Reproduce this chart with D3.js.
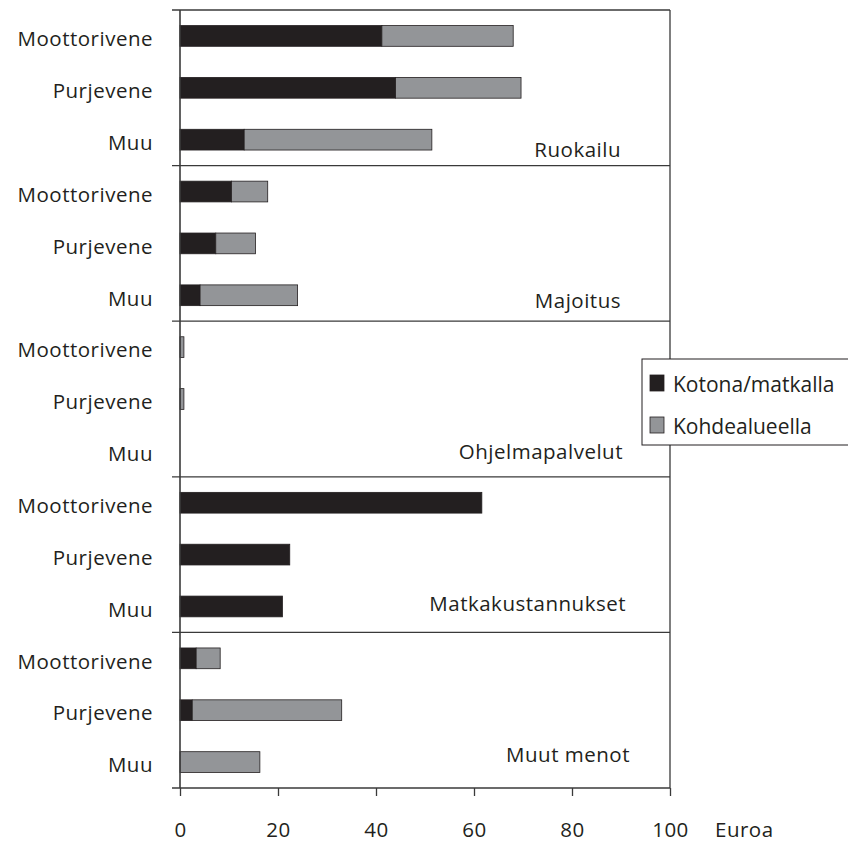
<!DOCTYPE html>
<html>
<head>
<meta charset="UTF-8">
<style>
  body { margin: 0; background: #fff; }
  svg text { font-family: 'Open Sans', sans-serif; fill: #231f20; }
  .lbl { font-size: 20.5px; letter-spacing: 0.5px; }
</style>
</head>
<body>
<svg id="chart" width="848" height="844"></svg>
<script src="https://cdn.jsdelivr.net/npm/d3@7"></script>
<script>
// groups (top to bottom) and boat types
const groups = ["Ruokailu", "Majoitus", "Ohjelmapalvelut", "Matkakustannukset", "Muut menot"];
const boats = ["Moottorivene", "Purjevene", "Muu"];
const seriesNames = ["Kotona/matkalla", "Kohdealueella"];

// euros, per group: [Moottorivene, Purjevene, Muu]
const kotona = [
  [41.2, 44.0, 13.1],
  [10.5, 7.3, 4.1],
  [0, 0, 0],
  [61.6, 22.4, 20.9],
  [3.3, 2.5, 0]
];
const kohde = [
  [26.8, 25.6, 38.3],
  [7.4, 8.1, 19.9],
  [0.8, 0.8, 0],
  [0, 0, 0],
  [4.9, 30.5, 16.3]
];
const xTicks = [0, 20, 40, 60, 80, 100];
const xLabel = "Euroa";

const svg = d3.select("#chart");
const mLeft = 180, mRight = 670, mTop = 10, mBottom = 788;

const x = d3.scaleLinear().domain([0, 100]).range([mLeft, mRight]);
const yGroup = d3.scaleBand().domain(groups).range([mTop, mBottom]);
const yBoat = d3.scaleBand().domain(boats).range([0, yGroup.bandwidth()])
  .paddingInner(0.6).paddingOuter(0.3);

const colors = ["#231f20", "#939598"];

// flatten into stacked rows
let rows = [];
groups.forEach((g, gi) => {
  boats.forEach((b, bi) => {
    rows.push({ g: g, b: b, v0: kotona[gi][bi], v1: kohde[gi][bi] });
  });
});

// bars
const barG = svg.append("g");
rows.forEach(r => {
  const y0 = yGroup(r.g) + yBoat(r.b);
  if (r.v0 > 0) {
    barG.append("rect")
      .attr("x", x(0)).attr("y", y0)
      .attr("width", x(r.v0) - x(0)).attr("height", yBoat.bandwidth())
      .attr("fill", colors[0]).attr("stroke", "#231f20").attr("stroke-width", 0.8);
  }
  if (r.v1 > 0) {
    barG.append("rect")
      .attr("x", x(r.v0)).attr("y", y0)
      .attr("width", x(r.v0 + r.v1) - x(r.v0)).attr("height", yBoat.bandwidth())
      .attr("fill", colors[1]).attr("stroke", "#231f20").attr("stroke-width", 0.8);
  }
});

// group separators and frame
const lineColor = "#3a3a3a";
groups.forEach(g => {
  svg.append("line")
    .attr("x1", mLeft - 8).attr("x2", mRight)
    .attr("y1", yGroup(g)).attr("y2", yGroup(g))
    .attr("stroke", lineColor).attr("stroke-width", 1.3);
});
svg.append("line").attr("x1", mRight).attr("x2", mRight)
  .attr("y1", mTop).attr("y2", mBottom)
  .attr("stroke", lineColor).attr("stroke-width", 1.3);
svg.append("line").attr("x1", mLeft).attr("x2", mLeft)
  .attr("y1", mTop).attr("y2", mBottom)
  .attr("stroke", lineColor).attr("stroke-width", 1.6);

// x axis
const xAxis = svg.append("g")
  .attr("transform", "translate(0," + mBottom + ")")
  .call(d3.axisBottom(x).tickValues(xTicks).tickSize(8).tickPadding(26).tickSizeOuter(0));
xAxis.select(".domain").attr("d", "M" + (mLeft - 8) + ",0H" + mRight)
  .attr("stroke", lineColor).attr("stroke-width", 1.3);
xAxis.selectAll(".tick line").attr("stroke", lineColor).attr("stroke-width", 1.3);
xAxis.selectAll(".tick text")
  .attr("class", "lbl")
  .style("font-family", "'Open Sans', sans-serif").attr("fill", "#231f20");

svg.append("text").attr("class", "lbl").attr("x", 715).attr("y", 837).text(xLabel);

// boat labels
rows.forEach(r => {
  svg.append("text")
    .attr("class", "lbl")
    .attr("x", 153)
    .attr("y", yGroup(r.g) + yBoat(r.b) + yBoat.bandwidth() / 2)
    .attr("dy", "0.5em")
    .attr("text-anchor", "end")
    .text(r.b);
});

// group labels (right end x, baseline above group bottom)
const groupLabelPos = [[621, 9], [621, 13], [623, 18], [626, 21], [630, 26]];
groups.forEach((g, i) => {
  svg.append("text")
    .attr("class", "lbl")
    .attr("x", groupLabelPos[i][0])
    .attr("y", yGroup(g) + yGroup.bandwidth() - groupLabelPos[i][1])
    .attr("text-anchor", "end")
    .text(g);
});

// legend
const lg = svg.append("g").attr("transform", "translate(642,359)");
lg.append("rect").attr("width", 230).attr("height", 86)
  .attr("fill", "#fff").attr("stroke", "#231f20").attr("stroke-width", 1);
seriesNames.forEach((s, i) => {
  lg.append("rect").attr("x", 8).attr("y", 16 + i * 42)
    .attr("width", 14).attr("height", 16)
    .attr("fill", colors[i]).attr("stroke", "#231f20").attr("stroke-width", 0.8);
  lg.append("text").attr("x", 31).attr("y", 33 + i * 42)
    .style("font-size", "21px").text(s);
});
</script>
</body>
</html>
